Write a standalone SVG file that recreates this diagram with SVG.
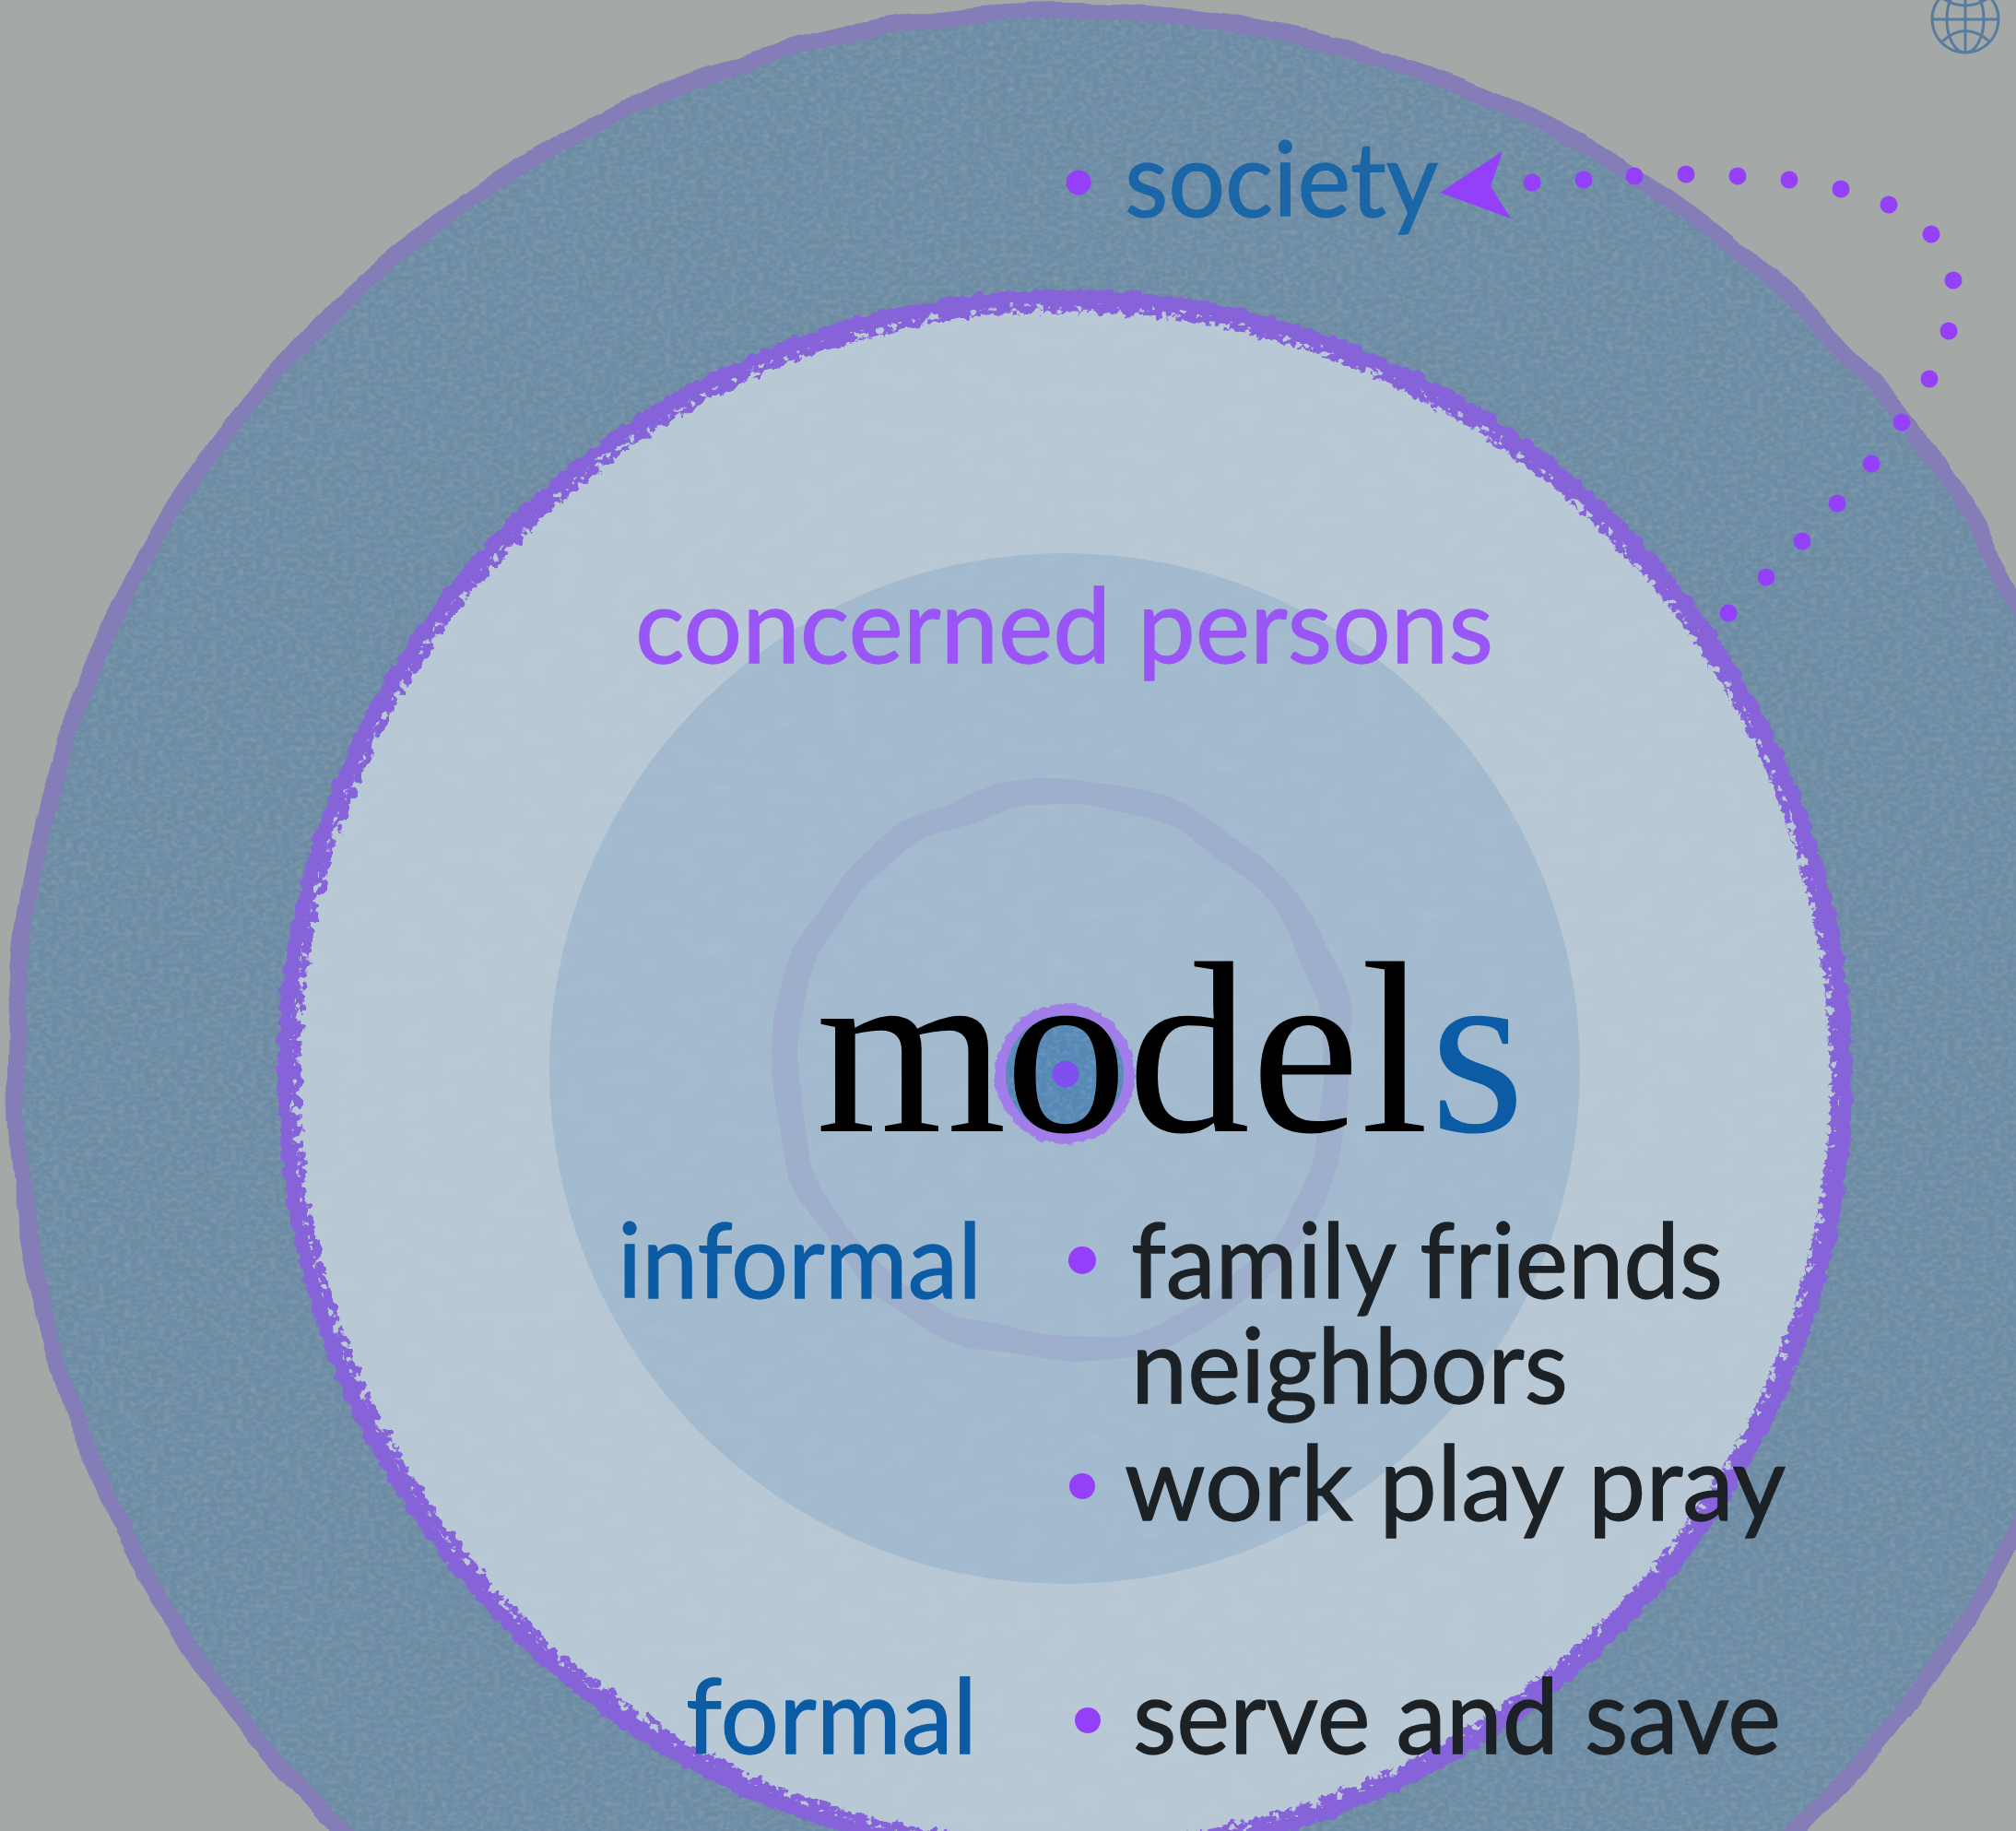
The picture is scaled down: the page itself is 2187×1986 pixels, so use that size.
<svg xmlns="http://www.w3.org/2000/svg" width="2187" height="1986" viewBox="0 0 2187 1986">
<style>
.g{font-family:"Lato","Open Sans","Liberation Sans",sans-serif;font-size:113px;stroke-width:1.3}
.b{fill:#0b5ca5;stroke:#0b5ca5}.k{fill:#1c2126;stroke:#1c2126}.p{fill:#9a55f6;stroke:#9a55f6}.s{fill:#1a66a6;stroke:#1a66a6}
.dot{fill:#9440f8}
</style>
<defs>
<filter id="tex" filterUnits="userSpaceOnUse" x="0" y="0" width="2187" height="1986">
<feTurbulence type="fractalNoise" baseFrequency="0.14 0.2" numOctaves="2" seed="4" result="n"/>
<feColorMatrix in="n" type="matrix" values="0 0 0 0 0.55 0 0 0 0 0.68 0 0 0 0 0.78 0.3 0 0 0 -0.12" result="a"/>
<feComposite in="a" in2="SourceGraphic" operator="in" result="c"/>
<feMerge><feMergeNode in="SourceGraphic"/><feMergeNode in="c"/></feMerge>
</filter>
<filter id="tex2" filterUnits="userSpaceOnUse" x="0" y="0" width="2187" height="1986">
<feTurbulence type="fractalNoise" baseFrequency="0.03 0.05" numOctaves="2" seed="9" result="n"/>
<feColorMatrix in="n" type="matrix" values="0 0 0 0 0.6 0 0 0 0 0.7 0 0 0 0 0.78 0.2 0 0 0 -0.08" result="a"/>
<feComposite in="a" in2="SourceGraphic" operator="in" result="c"/>
<feMerge><feMergeNode in="SourceGraphic"/><feMergeNode in="c"/></feMerge>
</filter>
<filter id="wob" filterUnits="userSpaceOnUse" x="-40" y="-40" width="2300" height="2100">
<feTurbulence type="fractalNoise" baseFrequency="0.012" numOctaves="3" seed="7" result="n"/>
<feDisplacementMap in="SourceGraphic" in2="n" scale="12" xChannelSelector="R" yChannelSelector="G"/>
</filter>
<filter id="wob2" filterUnits="userSpaceOnUse" x="700" y="700" width="900" height="900">
<feTurbulence type="fractalNoise" baseFrequency="0.008" numOctaves="2" seed="12" result="n"/>
<feDisplacementMap in="SourceGraphic" in2="n" scale="26" xChannelSelector="R" yChannelSelector="G"/>
</filter>
<filter id="rough" filterUnits="userSpaceOnUse" x="200" y="200" width="1987" height="1786">
<feTurbulence type="fractalNoise" baseFrequency="0.09" numOctaves="3" seed="5" result="n"/>
<feDisplacementMap in="SourceGraphic" in2="n" scale="12" xChannelSelector="R" yChannelSelector="G"/>
</filter>
<filter id="roughHoles" filterUnits="userSpaceOnUse" x="200" y="200" width="1987" height="1786">
<feTurbulence type="fractalNoise" baseFrequency="0.1" numOctaves="3" seed="8" result="n"/>
<feDisplacementMap in="SourceGraphic" in2="n" scale="16" xChannelSelector="R" yChannelSelector="G" result="d"/>
<feColorMatrix in="n" type="matrix" values="0 0 0 0 0 0 0 0 0 0 0 0 0 0 0 14 0 0 0 -8" result="h"/>
<feComposite in="d" in2="h" operator="out"/>
</filter>
<filter id="rough3" filterUnits="userSpaceOnUse" x="1050" y="1060" width="210" height="210">
<feTurbulence type="fractalNoise" baseFrequency="0.12" numOctaves="2" seed="3" result="n"/>
<feDisplacementMap in="SourceGraphic" in2="n" scale="7" xChannelSelector="R" yChannelSelector="G"/>
</filter>
<marker id="dotm" markerUnits="userSpaceOnUse" markerWidth="22" markerHeight="22" refX="11" refY="11" viewBox="0 0 22 22">
<circle cx="11" cy="11" r="9.5" class="dot"/>
</marker>
</defs>
<rect id="background" width="2187" height="1986" fill="#a4a8a6"/>
<g id="society-ring">
<circle cx="1160" cy="1156" r="1145" fill="#6d8ca4" filter="url(#tex)"/>
<circle cx="1160" cy="1156" r="1144" fill="none" stroke="#847db8" stroke-width="18" filter="url(#wob)"/>
</g>
<g id="concerned-ring">
<circle cx="1155" cy="1168" r="842" fill="#b8c8d4" filter="url(#tex2)"/>
<circle cx="1155" cy="1168" r="846" fill="none" stroke="#8663d9" stroke-width="16" filter="url(#rough)"/>
<circle cx="1155" cy="1168" r="835" fill="none" stroke="#8663d9" stroke-width="11" filter="url(#roughHoles)"/>
</g>
<g id="informal-circle">
<circle cx="1155" cy="1159" r="559" fill="#a3bace" filter="url(#tex2)"/>
</g>
<g id="inner-ring">
<circle cx="1153" cy="1161" r="303" fill="none" stroke="#9dafca" stroke-width="28" filter="url(#wob2)"/>
</g>
<g id="core">
<circle cx="1155" cy="1165" r="76" fill="#a07de9" filter="url(#rough3)"/>
<circle cx="1155" cy="1165" r="64" fill="#5588b5" filter="url(#tex)"/>
</g>
<g id="models">
<text x="885 1090 1223 1357 1476" y="1227" font-family="Liberation Serif,serif" font-size="266" fill="#000">model<tspan x="1551" fill="#0b5ca5">s</tspan></text>
<circle cx="1156" cy="1165" r="14.5" fill="#8050ee"/>
</g>
<g id="society">
<circle cx="1170" cy="198" r="13.5" class="dot"/>
<text class="g s" x="1220" y="235" textLength="340" lengthAdjust="spacingAndGlyphs">society</text>
</g>
<g id="concerned-persons">
<text class="g p" x="689" y="719" textLength="931" lengthAdjust="spacingAndGlyphs">concerned persons</text>
</g>
<g id="informal">
<text class="g b" x="670" y="1408" textLength="395" lengthAdjust="spacingAndGlyphs">informal</text>
</g>
<g id="family-friends-neighbors">
<circle cx="1174" cy="1367" r="15" class="dot"/>
<text class="g k" x="1227" y="1408" textLength="642" lengthAdjust="spacingAndGlyphs">family friends</text>
<text class="g k" x="1227" y="1522" textLength="474" lengthAdjust="spacingAndGlyphs">neighbors</text>
</g>
<g id="work-play-pray">
<circle cx="1174" cy="1612" r="14" class="dot"/>
<text class="g k" x="1220" y="1649" textLength="717" lengthAdjust="spacingAndGlyphs">work play pray</text>
</g>
<g id="formal">
<text class="g b" x="744" y="1902" textLength="316" lengthAdjust="spacingAndGlyphs">formal</text>
</g>
<g id="serve-and-save">
<circle cx="1180" cy="1866" r="14" class="dot"/>
<text class="g k" x="1229" y="1902" textLength="703" lengthAdjust="spacingAndGlyphs">serve and save</text>
</g>
<g id="connectors">
<polyline fill="none" stroke="none" marker-start="url(#dotm)" marker-mid="url(#dotm)" marker-end="url(#dotm)" points="1875,665 1916,626 1955,587 1993,546 2030,503 2063,458 2093,411 2114,359 2119,304 2095,254 2049,222 1997,205 1941,195 1885,191 1829,189 1773,191 1718,195 1662,198"/>
<polygon points="1562,209 1630,164 1617,202 1639,237" fill="#9440f8"/>
</g>
<g id="globe" fill="none" stroke="#587c9e" stroke-width="3">
<circle cx="2132" cy="21" r="36"/>
<ellipse cx="2132" cy="21" rx="20" ry="36"/>
<path d="M2096 21H2168M2132 -15V57M2107 -2Q2132 14 2157 -2M2107 45Q2132 22 2158 45"/>
</g>
</svg>
